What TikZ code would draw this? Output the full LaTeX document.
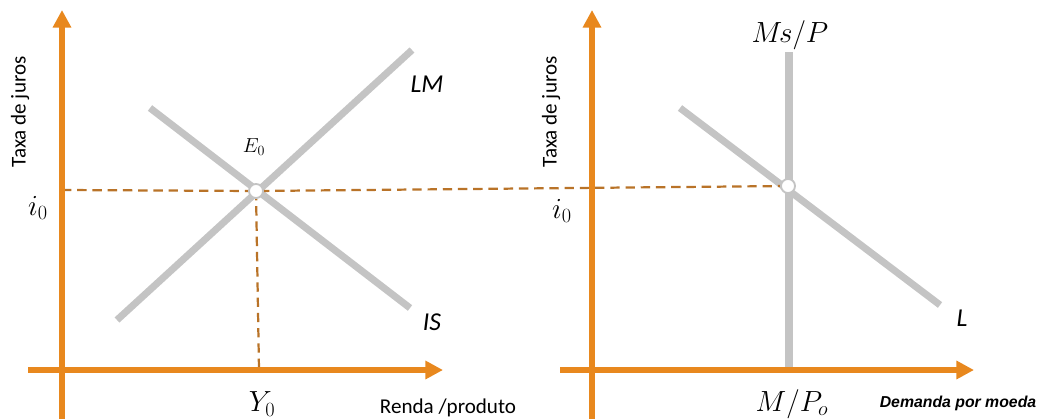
\documentclass[tikz,border=0pt]{standalone}
\usepackage{fontspec}
\setmainfont{Carlito}
\newfontfamily\arialfont{Liberation Sans}
\usetikzlibrary{arrows.meta}
\definecolor{axisor}{RGB}{232,136,30}
\definecolor{dashbr}{RGB}{185,115,40}
\definecolor{curvegr}{RGB}{196,196,196}
\tikzset{
  axis/.style={draw=axisor, line width=4.3pt, -{Triangle[width=15pt,length=15pt]}},
  curve/.style={draw=curvegr, line width=6pt},
  guide/.style={draw=dashbr, line width=1.9pt, dash pattern=on 8pt off 5pt},
  eqpt/.style={circle, draw=curvegr, line width=1.6pt, fill=white, minimum size=12pt, inner sep=0pt},
  sanslab/.style={font=\fontsize{18}{20}\selectfont},
  curvelab/.style={font=\fontsize{22}{24}\selectfont\itshape},
  mathlab/.style={font=\fontsize{24}{26}\selectfont},
}
\begin{document}
\begin{tikzpicture}[x=0.03cm,y=-0.03cm]
\useasboundingbox (0,0) rectangle (1043,419);
% left panel
\coordinate (lyb) at (62,419);
\coordinate (lyt) at (62,10);
\coordinate (lxl) at (28,370);
\coordinate (lxr) at (443,370);
\coordinate (lm1) at (117,320);
\coordinate (lm2) at (412,50);
\coordinate (is1) at (150,108);
\coordinate (is2) at (410,308);
\coordinate (y0b) at (259,370);
% right panel
\coordinate (ryb) at (592,419);
\coordinate (ryt) at (592,10);
\coordinate (rxl) at (560,370);
\coordinate (rxr) at (974,370);
\coordinate (ms1) at (789,52);
\coordinate (ms2) at (789,370);
\coordinate (l1) at (680,108);
\coordinate (l2) at (940,305);
\coordinate (dl) at (62,190);

\draw[curve] (lm1) -- (lm2);
\draw[curve] (is1) -- (is2);
\draw[curve] (ms1) -- (ms2);
\draw[curve] (l1) -- (l2);

\coordinate (e0c) at (256,191);
\coordinate (e1c) at (788,186);
\draw[guide] (dl) -- (e0c) -- (e1c);
\draw[guide] (e0c) -- (y0b);
\node[eqpt] (e0) at (e0c) {};
\node[eqpt] (e1) at (e1c) {};

\draw[axis] (lyb) -- (lyt);
\draw[axis] (lxl) -- (lxr);
\draw[axis] (ryb) -- (ryt);
\draw[axis] (rxl) -- (rxr);

% labels
\node[sanslab, rotate=90] (tl) at (20,112) {Taxa de juros};
\node[sanslab, rotate=90] (tr) at (551,112) {Taxa de juros};
\node[mathlab] (i0l) at (38,208) {$i_0$};
\node[mathlab] (i0r) at (562,211) {$i_0$};
\node[font=\fontsize{17}{19}\selectfont] (e0l) at (254,147) {$E_0$};
\node[mathlab] (y0) at (262,404) {$Y_0$};
\node[sanslab] (renda) at (448,408) {Renda /produto};
\node[curvelab] (lml) at (427,84) {LM};
\node[curvelab] (isl) at (432,322) {IS};
\node[curvelab] (ll) at (962,318) {L};
\node[mathlab] (msp) at (790,35) {$M\mkern-2mu s/P$};
\node[mathlab] (mpo) at (792,404) {$M/P_o$};
\node[font=\fontsize{13.5}{15}\selectfont\arialfont\bfseries\itshape] (dem) at (958,403) {Demanda por moeda};
\end{tikzpicture}
\end{document}
